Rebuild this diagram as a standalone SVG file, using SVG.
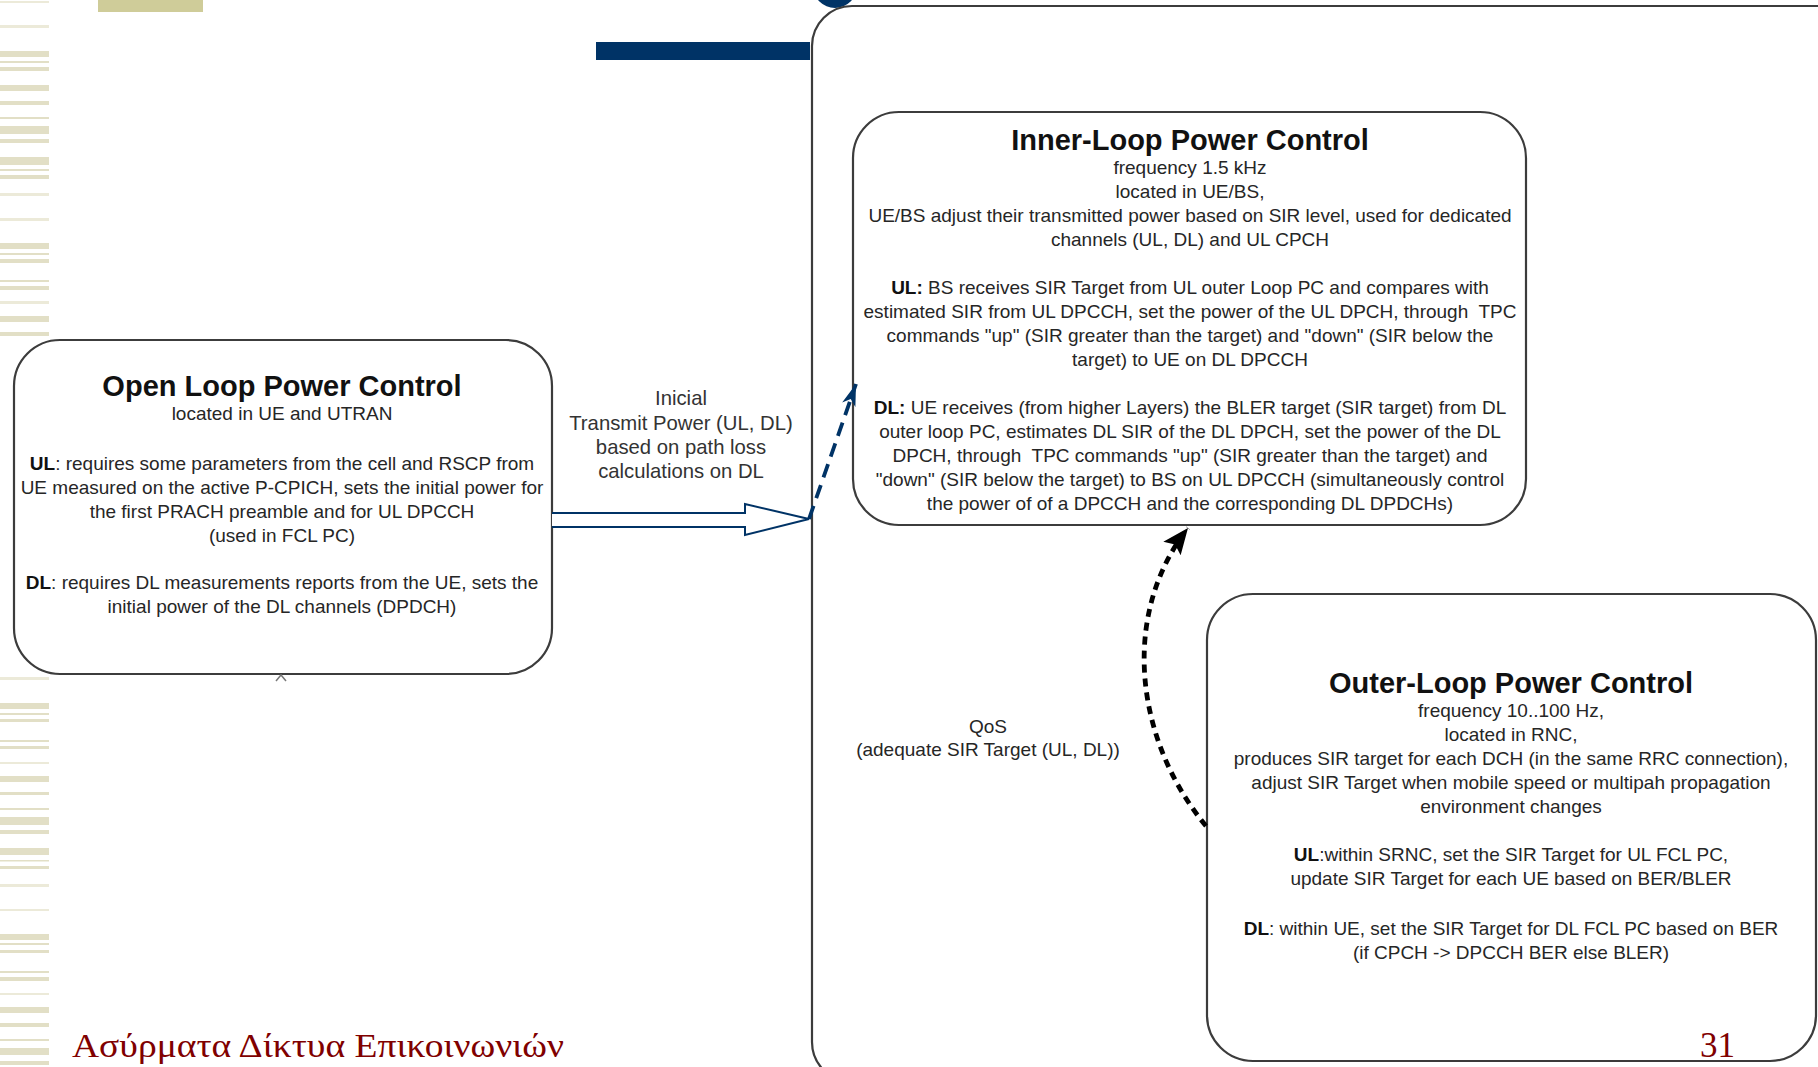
<svg xmlns="http://www.w3.org/2000/svg" width="1818" height="1067" viewBox="0 0 1818 1067">
<defs>
<style>
.box{fill:#fff;stroke:#3c3c3c;stroke-width:2.2}
.ttl{font-family:"Liberation Sans",Arial,sans-serif;font-weight:bold;font-size:29px;fill:#111;text-anchor:middle}
.bd{font-family:"Liberation Sans",Arial,sans-serif;font-size:19px;fill:#262626;text-anchor:middle}
.lbl{font-family:"Liberation Sans",Arial,sans-serif;font-size:20.3px;fill:#333;text-anchor:middle}
.b{font-weight:bold;fill:#111}
.st{fill:#e2dfc6}
.sl{fill:#ecead9}
.ft{font-family:"Liberation Serif","Times New Roman",serif;fill:#800000}
</style>
<marker id="navyHead" markerUnits="userSpaceOnUse" markerWidth="24" markerHeight="16" refX="22" refY="8" orient="auto">
<path d="M0,1 L22,8 L0,15 L6,8 Z" fill="#003366"/>
</marker>
<marker id="blackHead" markerUnits="userSpaceOnUse" markerWidth="28" markerHeight="24" refX="26" refY="12" orient="auto">
<path d="M0,1 L26,12 L0,23 L5,12 Z" fill="#000"/>
</marker>
</defs>
<rect width="1818" height="1067" fill="#fff"/>
<g id="stripes">
<rect class="sl" x="0" y="1" width="49" height="2"/>
<rect class="sl" x="0" y="25" width="49" height="3"/>
<rect class="st" x="0" y="51" width="49" height="6"/>
<rect class="st" x="0" y="61" width="49" height="2"/>
<rect class="st" x="0" y="67" width="49" height="4"/>
<rect class="st" x="0" y="85" width="49" height="6"/>
<rect class="st" x="0" y="101" width="49" height="4"/>
<rect class="st" x="0" y="117" width="49" height="2"/>
<rect class="st" x="0" y="126" width="49" height="8"/>
<rect class="st" x="0" y="139" width="49" height="4"/>
<rect class="st" x="0" y="157" width="49" height="8"/>
<rect class="st" x="0" y="169" width="49" height="2"/>
<rect class="st" x="0" y="175" width="49" height="4"/>
<rect class="sl" x="0" y="193" width="49" height="3"/>
<rect class="sl" x="0" y="218" width="49" height="3"/>
<rect class="st" x="0" y="243" width="49" height="6"/>
<rect class="st" x="0" y="253" width="49" height="2"/>
<rect class="st" x="0" y="259" width="49" height="4"/>
<rect class="st" x="0" y="280" width="49" height="2"/>
<rect class="st" x="0" y="286" width="49" height="4"/>
<rect class="sl" x="0" y="301" width="49" height="3"/>
<rect class="st" x="0" y="316" width="49" height="6"/>
<rect class="st" x="0" y="332" width="49" height="4"/>
<rect class="sl" x="0" y="677" width="49" height="3"/>
<rect class="st" x="0" y="703" width="49" height="6"/>
<rect class="st" x="0" y="713" width="49" height="2"/>
<rect class="st" x="0" y="719" width="49" height="3"/>
<rect class="st" x="0" y="740" width="49" height="2"/>
<rect class="st" x="0" y="746" width="49" height="3"/>
<rect class="sl" x="0" y="762" width="49" height="2"/>
<rect class="st" x="0" y="776" width="49" height="6"/>
<rect class="st" x="0" y="792" width="49" height="3"/>
<rect class="st" x="0" y="808" width="49" height="2"/>
<rect class="st" x="0" y="817" width="49" height="8"/>
<rect class="st" x="0" y="830" width="49" height="4"/>
<rect class="st" x="0" y="848" width="49" height="7"/>
<rect class="st" x="0" y="860" width="49" height="1.5"/>
<rect class="st" x="0" y="866" width="49" height="3"/>
<rect class="sl" x="0" y="884" width="49" height="3"/>
<rect class="sl" x="0" y="909" width="49" height="2"/>
<rect class="st" x="0" y="934" width="49" height="6"/>
<rect class="st" x="0" y="943" width="49" height="2"/>
<rect class="st" x="0" y="950" width="49" height="3"/>
<rect class="st" x="0" y="971" width="49" height="2"/>
<rect class="st" x="0" y="977" width="49" height="4"/>
<rect class="sl" x="0" y="993" width="49" height="2"/>
<rect class="st" x="0" y="1007" width="49" height="6"/>
<rect class="st" x="0" y="1023" width="49" height="4"/>
<rect class="st" x="0" y="1039" width="49" height="2"/>
<rect class="st" x="0" y="1048" width="49" height="7"/>
<rect class="st" x="0" y="1061" width="49" height="4"/>
</g>
<rect x="98" y="0" width="105" height="12" fill="#cfcc99"/>
<rect x="596" y="42" width="214" height="18" fill="#003366"/>
<circle cx="835" cy="-14" r="22" fill="#003366"/>

<g id="container">
<rect class="box" x="812" y="6" width="1100" height="1076" rx="40" stroke="#555" stroke-width="2"/>
</g>

<rect x="0" y="337" width="565" height="339" fill="#fff"/>
<g id="open-loop">
<rect class="box" x="14" y="340" width="538" height="334" rx="46"/>
<path d="M276 681 L281 675 L286 681" fill="none" stroke="#777" stroke-width="1.5"/>
<text class="ttl" x="282" y="396">Open Loop Power Control</text>
<text class="bd" x="282" y="420">located in UE and UTRAN</text>
<text class="bd" x="282" y="470"><tspan class="b">UL</tspan>: requires some parameters from the cell and RSCP from</text>
<text class="bd" x="282" y="494">UE measured on the active P-CPICH, sets the initial power for</text>
<text class="bd" x="282" y="518">the first PRACH preamble and for UL DPCCH</text>
<text class="bd" x="282" y="542">(used in FCL PC)</text>
<text class="bd" x="282" y="589"><tspan class="b">DL</tspan>: requires DL measurements reports from the UE, sets the</text>
<text class="bd" x="282" y="613">initial power of the DL channels (DPDCH)</text>
</g>

<g id="inner-loop">
<rect class="box" x="853" y="112" width="673" height="413" rx="46"/>
<text class="ttl" x="1190" y="150">Inner-Loop Power Control</text>
<text class="bd" x="1190" y="174">frequency 1.5 kHz</text>
<text class="bd" x="1190" y="198">located in UE/BS,</text>
<text class="bd" x="1190" y="222">UE/BS adjust their transmitted power based on SIR level, used for dedicated</text>
<text class="bd" x="1190" y="246">channels (UL, DL) and UL CPCH</text>
<text class="bd" x="1190" y="294"><tspan class="b">UL:</tspan> BS receives SIR Target from UL outer Loop PC and compares with</text>
<text class="bd" x="1190" y="318" xml:space="preserve">estimated SIR from UL DPCCH, set the power of the UL DPCH, through  TPC</text>
<text class="bd" x="1190" y="342">commands "up" (SIR greater than the target) and "down" (SIR below the</text>
<text class="bd" x="1190" y="366">target) to UE on DL DPCCH</text>
<text class="bd" x="1190" y="414"><tspan class="b">DL:</tspan> UE receives (from higher Layers) the BLER target (SIR target) from DL</text>
<text class="bd" x="1190" y="438">outer loop PC, estimates DL SIR of the DL DPCH, set the power of the DL</text>
<text class="bd" x="1190" y="462" xml:space="preserve">DPCH, through  TPC commands "up" (SIR greater than the target) and</text>
<text class="bd" x="1190" y="486">"down" (SIR below the target) to BS on UL DPCCH (simultaneously control</text>
<text class="bd" x="1190" y="510">the power of of a DPCCH and the corresponding DL DPDCHs)</text>
</g>

<g id="outer-loop">
<rect class="box" x="1207" y="594" width="609" height="467" rx="46"/>
<text class="ttl" x="1511" y="693">Outer-Loop Power Control</text>
<text class="bd" x="1511" y="717">frequency 10..100 Hz,</text>
<text class="bd" x="1511" y="741">located in RNC,</text>
<text class="bd" x="1511" y="765">produces SIR target for each DCH (in the same RRC connection),</text>
<text class="bd" x="1511" y="789">adjust SIR Target when mobile speed or multipah propagation</text>
<text class="bd" x="1511" y="813">environment changes</text>
<text class="bd" x="1511" y="861"><tspan class="b">UL</tspan>:within SRNC, set the SIR Target for UL FCL PC,</text>
<text class="bd" x="1511" y="885">update SIR Target for each UE based on BER/BLER</text>
<text class="bd" x="1511" y="935"><tspan class="b">DL</tspan>: within UE, set the SIR Target for DL FCL PC based on BER</text>
<text class="bd" x="1511" y="959">(if CPCH -&gt; DPCCH BER else BLER)</text>
</g>

<g id="connectors">
<path d="M552 513 L745 513 L745 504 L809 519 L745 535 L745 527 L552 527" fill="#fff" stroke="#003366" stroke-width="2"/>
<path d="M809 519 L856 384" fill="none" stroke="#003366" stroke-width="3.8" stroke-dasharray="14 8" marker-end="url(#navyHead)"/>
<path d="M1206 826 C1135 740 1120 615 1188 528" fill="none" stroke="#000" stroke-width="4.8" stroke-dasharray="8 6" marker-end="url(#blackHead)"/>
<text class="lbl" x="681" y="405">Inicial</text>
<text class="lbl" x="681" y="430">Transmit Power (UL, DL)</text>
<text class="lbl" x="681" y="454">based on path loss</text>
<text class="lbl" x="681" y="478">calculations on DL</text>
<text class="bd" x="988" y="733">QoS</text>
<text class="bd" x="988" y="756">(adequate SIR Target (UL, DL))</text>
</g>

<text class="ft" x="72" y="1057" font-size="34" textLength="492" lengthAdjust="spacingAndGlyphs">Ασύρματα Δίκτυα Επικοινωνιών</text>
<text class="ft" x="1700" y="1057" font-size="35">31</text>
</svg>
